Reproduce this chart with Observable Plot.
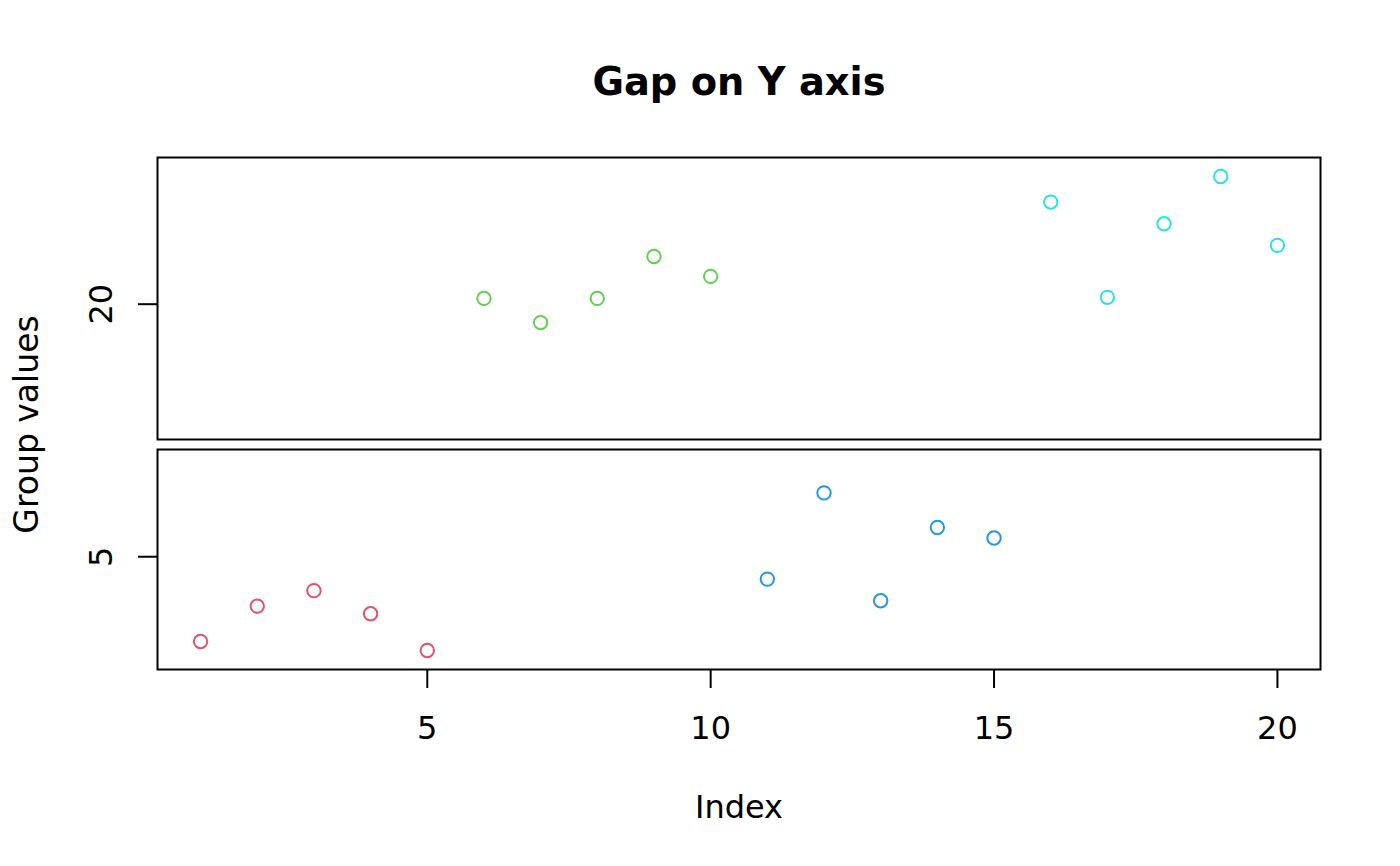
<!DOCTYPE html>
<html>
<head>
<meta charset="utf-8">
<script src="https://cdn.jsdelivr.net/npm/d3@7"></script>
<script src="https://cdn.jsdelivr.net/npm/@observablehq/plot@0.6"></script>
<style>
  body { margin: 0; background: white; }
  #grafico { position: relative; width: 1400px; height: 866px; }
  #grafico svg { position: absolute; left: 0; top: 0; }
</style>
</head>
<body>
<div id="grafico"></div>
<script>
// datos
const indices = [1, 2, 3, 4, 5, 6, 7, 8, 9, 10, 11, 12, 13, 14, 15, 16, 17, 18, 19, 20]
const valores = [2.65, 3.63, 4.06, 3.42, 2.40, 20.16, 19.49, 20.16, 21.32, 20.77,
                 4.38, 6.77, 3.78, 5.81, 5.52, 22.83, 20.19, 22.23, 23.54, 21.63]
const grupos = ['g1', 'g1', 'g1', 'g1', 'g1', 'g2', 'g2', 'g2', 'g2', 'g2',
                'g3', 'g3', 'g3', 'g3', 'g3', 'g4', 'g4', 'g4', 'g4', 'g4']
const colores = ['#DF536B', '#61D04F', '#2297E6', '#28E2E5']
const gap = [8, 16]
const xTicks = [5, 10, 15, 20]
const yTicksAbajo = [5]
const yTicksArriba = [20]

const data = indices.map((d, i) => ({ index: d, valor: valores[i], grupo: grupos[i] }))
const abajo = data.filter(d => d.valor <= gap[0])
const arriba = data.filter(d => d.valor >= gap[1])

/* escala comprimida como en gap.plot (rango + 4%) */
const gapSize = gap[1] - gap[0]
const minC = d3.min(valores)
const maxC = d3.max(valores) - gapSize
const pad = (maxC - minC) * 0.04
const loC = minC - pad, hiC = maxC + pad
const W = 1400, H = 866
const pTop = 157, pBottom = 669, pLeft = 157, pRight = 1320
const u = (pBottom - pTop) / (hiC - loC)
const valorEn = p => loC + (pBottom - p) / u
const cortAbajo = 449, cortArriba = 439

const xDomain = [1 - 19 * 0.04, 20 + 19 * 0.04]
const fuente = 'DejaVu Sans'
const color = { domain: ['g1', 'g2', 'g3', 'g4'], range: colores }
const lw = 2

const puntos = (datos) => Plot.dot(datos, {
  x: 'index', y: 'valor', stroke: 'grupo', r: 6.7, strokeWidth: 2
})

/* panel de abajo, con eje X y textos */
const chartAbajo = Plot.plot({
  width: W, height: H,
  marginLeft: pLeft, marginRight: W - pRight,
  marginTop: cortAbajo, marginBottom: H - pBottom,
  style: { background: 'transparent', fontFamily: fuente },
  x: { domain: xDomain },
  y: { domain: [loC, valorEn(cortAbajo)] },
  color,
  marks: [
    Plot.frame({ stroke: 'black', strokeWidth: lw }),
    Plot.axisX(xTicks, { tickSize: 19, strokeWidth: lw, tickFormat: () => '', label: null }),
    Plot.text(xTicks, { x: d => d, text: d => String(d), frameAnchor: 'bottom', dy: 59,
      lineAnchor: 'middle', fontSize: 32, fill: 'black' }),
    Plot.axisY(yTicksAbajo, { tickSize: 19, strokeWidth: lw, tickFormat: () => '', label: null }),
    Plot.text(yTicksAbajo, { y: d => d, text: d => String(d), frameAnchor: 'left', dx: -56,
      rotate: -90, textAnchor: 'middle', lineAnchor: 'middle', fontSize: 32, fill: 'black' }),
    Plot.text(['Index'], { frameAnchor: 'bottom', dy: 138, lineAnchor: 'middle', fontSize: 32, fill: 'black' }),
    Plot.text(['Group values'], { frameAnchor: 'left', dx: -130, dy: 424 - (cortAbajo + pBottom) / 2,
      rotate: -90, textAnchor: 'middle', lineAnchor: 'middle', fontSize: 33, fill: 'black' }),
    puntos(abajo)
  ]
})

/* panel de arriba, valores altos */
const chartArriba = Plot.plot({
  width: W, height: H,
  marginLeft: pLeft, marginRight: W - pRight,
  marginTop: pTop, marginBottom: H - cortArriba,
  style: { background: 'transparent', fontFamily: fuente },
  x: { domain: xDomain, axis: null },
  y: { domain: [valorEn(cortArriba) + gapSize, hiC + gapSize] },
  color,
  marks: [
    Plot.frame({ stroke: 'black', strokeWidth: lw }),
    Plot.axisY(yTicksArriba, { tickSize: 19, strokeWidth: lw, tickFormat: () => '', label: null }),
    Plot.text(yTicksArriba, { y: d => d, text: d => String(d), frameAnchor: 'left', dx: -56,
      rotate: -90, textAnchor: 'middle', lineAnchor: 'middle', fontSize: 32, fill: 'black' }),
    Plot.text(['Gap on Y axis'], { frameAnchor: 'top', dy: -75, lineAnchor: 'middle',
      fontSize: 38.4, fontWeight: 'bold', fill: 'black' }),
    puntos(arriba)
  ]
})

d3.select('#grafico').append(() => chartAbajo)
d3.select('#grafico').append(() => chartArriba)
</script>
</body>
</html>
